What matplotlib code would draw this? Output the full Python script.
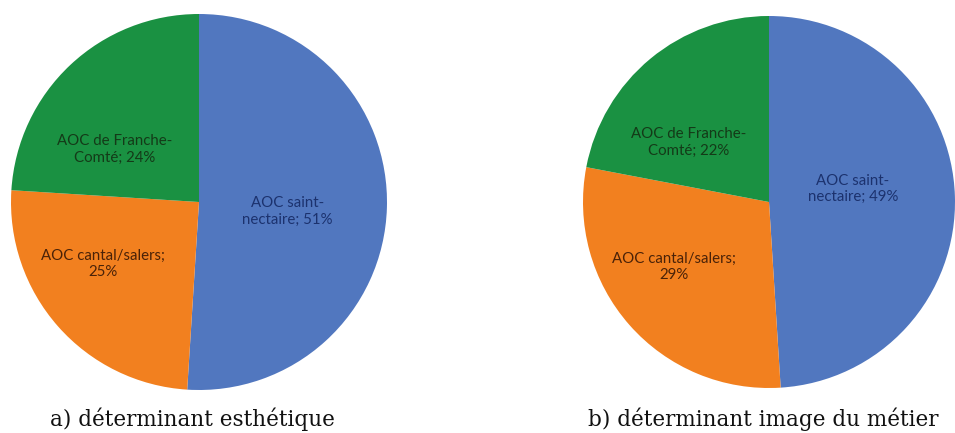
import matplotlib
matplotlib.use('Agg')
import matplotlib.pyplot as plt

categories = ['AOC saint-\nnectaire', 'AOC cantal/salers;\n', 'AOC de Franche-\nComté']
values_a = [51, 25, 24]
values_b = [49, 29, 22]
captions = ['a) déterminant esthétique', 'b) déterminant image du métier']

colors = ['#5177bf', '#f2801f', '#1a9142']
text_colors = ['#1c326e', '#4a2208', '#143a18']

# label positions (fraction of radius) as placed by the original chart
label_pos_a = [(0.47, -0.05), (-0.51, -0.33), (-0.45, 0.28)]
label_pos_b = [(0.45, 0.07), (-0.51, -0.35), (-0.43, 0.32)]

W, H = 955, 433
fig = plt.figure(figsize=(W / 100, H / 100), dpi=100)


def make_label(name, v):
    if name.endswith('\n'):
        return name + '%d%%' % v
    return name + '; %d%%' % v


def draw(cx, cy, r, vals, pos, caption, cap_x):
    ax = fig.add_axes([(cx - r) / W, (H - cy - r) / H, 2 * r / W, 2 * r / H])
    ax.pie(vals, colors=colors, startangle=90, counterclock=False,
           radius=1.0, wedgeprops=dict(linewidth=0))
    for name, v, (px, py), tc in zip(categories, vals, pos, text_colors):
        ax.text(px, py, make_label(name, v), ha='center', va='center',
                fontsize=10.8, family='Lato', color=tc, linespacing=1.2)
    ax.set_xlim(-1, 1)
    ax.set_ylim(-1, 1)
    ax.axis('off')
    fig.text(cap_x / W, 1 - 419 / H, caption, ha='center', va='center',
             fontsize=15.5, family='DejaVu Serif', color='#111111')


draw(199, 202, 188, values_a, label_pos_a, captions[0], 192)
draw(769, 202, 186, values_b, label_pos_b, captions[1], 763)

fig.savefig('out.png', dpi=100)
